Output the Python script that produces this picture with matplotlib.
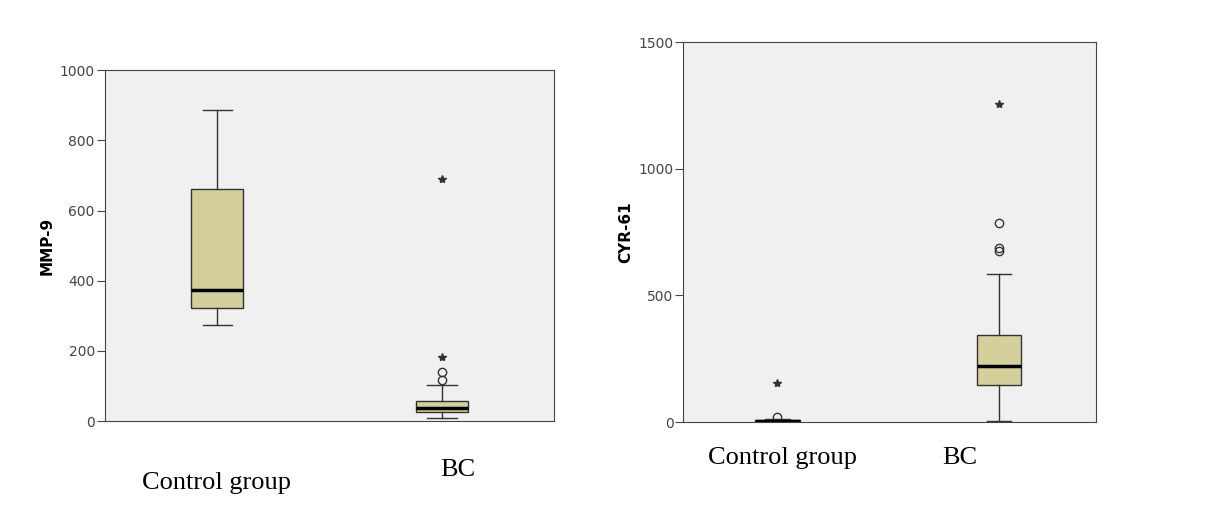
import matplotlib
matplotlib.use("Agg")
import matplotlib.pyplot as plt

groups = ["Control group", "BC"]

# MMP-9: whisker_lo, q1, median, q3, whisker_hi
mmp_stats = [[273, 322, 373, 661, 886], [9, 26, 37, 57, 103]]
mmp_circles = [[], [117, 140]]
mmp_stars = [[], [182, 689]]

# CYR-61
cyr_stats = [[0, 1, 4, 8, 13], [4, 146, 221, 343, 584]]
cyr_circles = [[20], [675, 687, 786]]
cyr_stars = [[154], [1255]]

fill = "#d5cf9c"


def panel(ax, stats, circles, stars, ylabel, ymax, width, xlim):
    bxp = []
    for s in stats:
        bxp.append(dict(whislo=s[0], q1=s[1], med=s[2], q3=s[3], whishi=s[4], fliers=[]))
    ax.bxp(bxp, positions=[1, 2], widths=width, patch_artist=True, showfliers=False,
           capwidths=width * 0.55,
           boxprops=dict(facecolor=fill, edgecolor="#333333", linewidth=1),
           medianprops=dict(color="black", linewidth=2.5),
           whiskerprops=dict(color="#333333", linewidth=1),
           capprops=dict(color="#333333", linewidth=1))
    for i in range(2):
        ax.plot([i + 1] * len(circles[i]), circles[i], "o", mfc="none", mec="#333333", ms=6)
        ax.plot([i + 1] * len(stars[i]), stars[i], "*", color="#333333", ms=6)
    ax.set_facecolor("#f0f0f0")
    ax.set_xlim(*xlim)
    ax.set_ylim(0, ymax)
    ax.set_xticks([])
    ax.set_ylabel(ylabel, fontweight="bold", fontsize=11)
    ax.tick_params(axis="y", colors="#444444", labelsize=10, length=6, direction="out", pad=1)
    for sp in ax.spines.values():
        sp.set_color("#444444")


fig = plt.figure(figsize=(12.16, 5.16), dpi=100)
ax1 = fig.add_axes([0.086, 0.184, 0.370, 0.680])
ax2 = fig.add_axes([0.562, 0.182, 0.339, 0.736])
panel(ax1, mmp_stats, mmp_circles, mmp_stars, "MMP-9", 1000, 0.235, (0.5, 2.5))
ax1.set_yticks([0, 200, 400, 600, 800, 1000])
panel(ax2, cyr_stats, cyr_circles, cyr_stars, "CYR-61", 1500, 0.2, (0.575, 2.437))
ax2.set_yticks([0, 500, 1000, 1500])

fig.text(217 / 1216, 1 - 483 / 516, groups[0], family="Liberation Serif", fontsize=19, ha="center", va="center")
fig.text(458 / 1216, 1 - 470 / 516, groups[1], family="Liberation Serif", fontsize=19, ha="center", va="center")
fig.text(782 / 1216, 1 - 458 / 516, groups[0], family="Liberation Serif", fontsize=19, ha="center", va="center")
fig.text(960 / 1216, 1 - 458 / 516, groups[1], family="Liberation Serif", fontsize=19, ha="center", va="center")

fig.savefig("out.png", dpi=100)
